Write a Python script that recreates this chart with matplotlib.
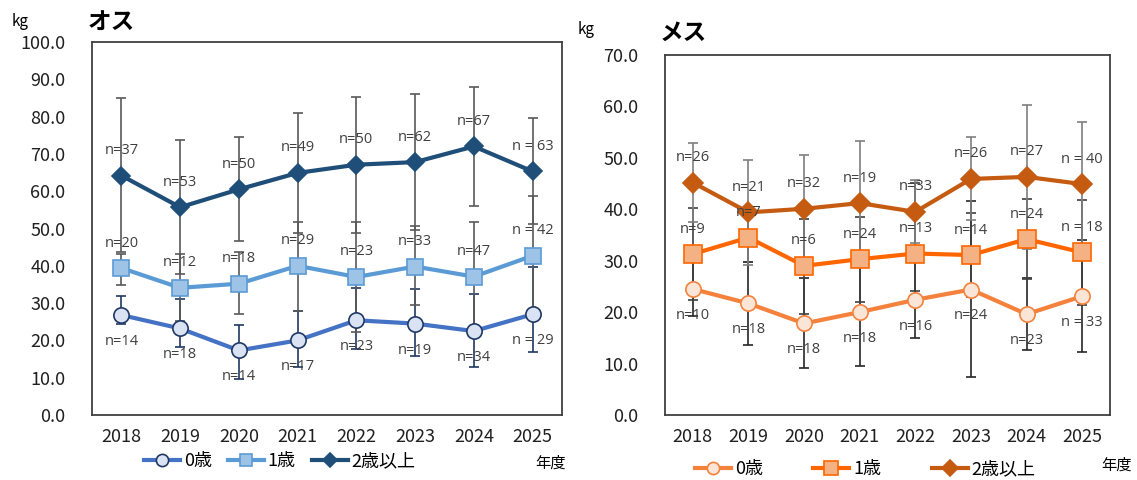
import matplotlib.pyplot as plt
from matplotlib.lines import Line2D

plt.rcParams['font.family'] = ['Noto Sans CJK JP', 'DejaVu Sans']

years = ['2018', '2019', '2020', '2021', '2022', '2023', '2024', '2025']
age_labels = ['0歳', '1歳', '2歳以上']

# オス: mean weight, upper / lower end of the error bar, sample sizes
male_0 = [26.8, 23.2, 17.3, 20.0, 25.4, 24.5, 22.5, 27.0]
male_0_hi = [31.9, 31.2, 24.0, 27.8, 34.0, 33.9, 32.5, 39.8]
male_0_lo = [24.4, 18.2, 9.6, 13.0, 17.8, 15.9, 13.0, 16.9]
male_0_n = ['n=14', 'n=18', 'n=14', 'n=17', 'n=23', 'n=19', 'n=34', 'n = 29']

male_1 = [39.4, 34.1, 35.2, 40.0, 37.0, 39.8, 37.1, 42.7]
male_1_hi = [43.1, 43.1, 43.6, 51.8, 51.8, 50.6, 51.8, 58.6]
male_1_lo = [34.9, 25.1, 27.1, 27.8, 22.3, 29.6, 22.4, 26.8]
male_1_n = ['n=20', 'n=12', 'n=18', 'n=29', 'n=23', 'n=33', 'n=47', 'n = 42']

male_2 = [64.2, 55.7, 60.5, 64.9, 67.1, 67.8, 72.0, 65.3]
male_2_hi = [85.1, 73.6, 74.5, 80.9, 85.3, 86.0, 88.0, 79.5]
male_2_lo = [43.7, 37.9, 46.7, 48.9, 48.9, 49.6, 56.1, 51.2]
male_2_n = ['n=37', 'n=53', 'n=50', 'n=49', 'n=50', 'n=62', 'n=67', 'n = 63']

# メス
female_0 = [24.5, 21.7, 17.8, 20.0, 22.4, 24.4, 19.6, 23.1]
female_0_hi = [29.7, 29.7, 26.6, 30.4, 29.9, 41.7, 26.6, 34.0]
female_0_lo = [19.3, 13.7, 9.1, 9.6, 14.9, 7.3, 12.6, 12.2]
female_0_n = ['n=10', 'n=18', 'n=18', 'n=18', 'n=16', 'n=24', 'n=23', 'n = 33']

female_1 = [31.3, 34.5, 29.0, 30.3, 31.4, 31.1, 34.2, 31.6]
female_1_hi = [40.3, 39.2, 38.1, 38.5, 45.1, 39.2, 42.0, 41.9]
female_1_lo = [22.3, 29.8, 19.6, 22.0, 24.2, 23.0, 26.4, 21.3]
female_1_n = ['n=9', 'n=7', 'n=6', 'n=24', 'n=13', 'n=14', 'n=24', 'n = 18']

female_2 = [45.2, 39.4, 40.1, 41.2, 39.5, 45.9, 46.3, 44.9]
female_2_hi = [52.9, 49.6, 50.6, 53.3, 45.6, 54.1, 60.3, 57.0]
female_2_lo = [37.5, 29.2, 29.6, 29.1, 33.4, 37.9, 32.3, 32.8]
female_2_n = ['n=26', 'n=21', 'n=32', 'n=19', 'n=33', 'n=26', 'n=27', 'n = 40']

W, H = 1137, 480
fig = plt.figure(figsize=(W / 100, H / 100), dpi=100)


def px_box(x0, y0, x1, y1):
    return [x0 / W, 1 - y1 / H, (x1 - x0) / W, (y1 - y0) / H]


def draw_panel(ax, series, ymax):
    x = range(len(years))
    for s in series:
        mean, hi, lo = s['mean'], s['hi'], s['lo']
        yerr = [[m - l for m, l in zip(mean, lo)], [h - m for m, h in zip(mean, hi)]]
        ax.errorbar(x, mean, yerr=yerr, fmt='none', ecolor=s['ecolor'],
                    elinewidth=1.2, capsize=3.5, capthick=1.2, zorder=1)
    for i, s in enumerate(series):
        ax.plot(x, s['mean'], color=s['color'], lw=3, marker=s['marker'],
                ms=s['ms'], mfc=s['mfc'], mec=s['mec'], mew=1.2, zorder=3 + i)
        off = 18 if s['above'] else -19
        for xi, yi, t in zip(x, s['mean'], s['n']):
            ax.annotate(t, (xi, yi), xytext=(0, off), textcoords='offset points',
                        ha='center', va='center', fontsize=10.5, color='#404040',
                        family=['Open Sans', 'DejaVu Sans'], zorder=10)
    ax.set_xlim(-0.5, len(years) - 0.5)
    ax.set_ylim(0, ymax)
    ax.set_yticks(range(0, ymax + 1, 10))
    ax.set_yticklabels([f'{v:.1f}' for v in range(0, ymax + 1, 10)])
    ax.set_xticks(list(x))
    ax.set_xticklabels(years)
    ax.tick_params(axis='y', length=0, pad=19, labelsize=13, labelcolor='#202020')
    ax.tick_params(axis='x', length=0, pad=9, labelsize=13, labelcolor='#202020')
    for sp in ax.spines.values():
        sp.set_color('#404040')
        sp.set_linewidth(1.3)


def handles(series):
    return [Line2D([], [], color=s['color'], lw=3, marker=s['marker'],
                   ms=s['ms'] * 0.8, mfc=s['mfc'], mec=s['mec'], mew=1.2)
            for s in series]


male_series = [
    dict(mean=male_0, hi=male_0_hi, lo=male_0_lo, n=male_0_n, color='#4472C4',
         marker='o', ms=11, mfc='#DAE3F3', mec='#203864', ecolor='#203864', above=False),
    dict(mean=male_1, hi=male_1_hi, lo=male_1_lo, n=male_1_n, color='#5B9BD5',
         marker='s', ms=11, mfc='#9DC3E6', mec='#5B9BD5', ecolor='#595959', above=True),
    dict(mean=male_2, hi=male_2_hi, lo=male_2_lo, n=male_2_n, color='#1F4E79',
         marker='D', ms=9, mfc='#1F4E79', mec='#1F4E79', ecolor='#595959', above=True),
]
female_series = [
    dict(mean=female_0, hi=female_0_hi, lo=female_0_lo, n=female_0_n, color='#F4823C',
         marker='o', ms=11, mfc='#FBE5D6', mec='#F4823C', ecolor='#262626', above=False),
    dict(mean=female_1, hi=female_1_hi, lo=female_1_lo, n=female_1_n, color='#FF6600',
         marker='s', ms=12.5, mfc='#F4B183', mec='#FF6600', ecolor='#404040', above=True),
    dict(mean=female_2, hi=female_2_hi, lo=female_2_lo, n=female_2_n, color='#C55A11',
         marker='D', ms=10, mfc='#C55A11', mec='#C55A11', ecolor='#7F7F7F', above=True),
]

ax1 = fig.add_axes(px_box(92, 42, 562, 415))
draw_panel(ax1, male_series, 100)
ax2 = fig.add_axes(px_box(665, 55, 1110, 415))
draw_panel(ax2, female_series, 70)

fig.text(88 / W, 1 - 22 / H, 'オス', fontsize=17, fontweight='bold', va='center', ha='left')
fig.text(660 / W, 1 - 33 / H, 'メス', fontsize=17, fontweight='bold', va='center', ha='left')
fig.text(12 / W, 1 - 22 / H, 'kg', fontsize=11, va='center', ha='left')
fig.text(578 / W, 1 - 30 / H, 'kg', fontsize=11, va='center', ha='left')
fig.text(550 / W, 1 - 463 / H, '年度', fontsize=11, va='center', ha='center')
fig.text(1117 / W, 1 - 465 / H, '年度', fontsize=11, va='center', ha='center')

leg_kw = dict(loc='center left', bbox_transform=fig.transFigure, frameon=False, ncol=3,
              fontsize=13, handlelength=2.0, handletextpad=0.2,
              borderpad=0, numpoints=1)
ax1.legend(handles(male_series), age_labels, bbox_to_anchor=(135 / W, 1 - 461 / H),
           columnspacing=0.9, **leg_kw)
# the female legend sits a little lower, right at the bottom edge
ax2.legend(handles(female_series), age_labels, bbox_to_anchor=(686 / W, 1 - 469 / H),
           columnspacing=2.8, **leg_kw)

fig.savefig('out.png', dpi=100)
